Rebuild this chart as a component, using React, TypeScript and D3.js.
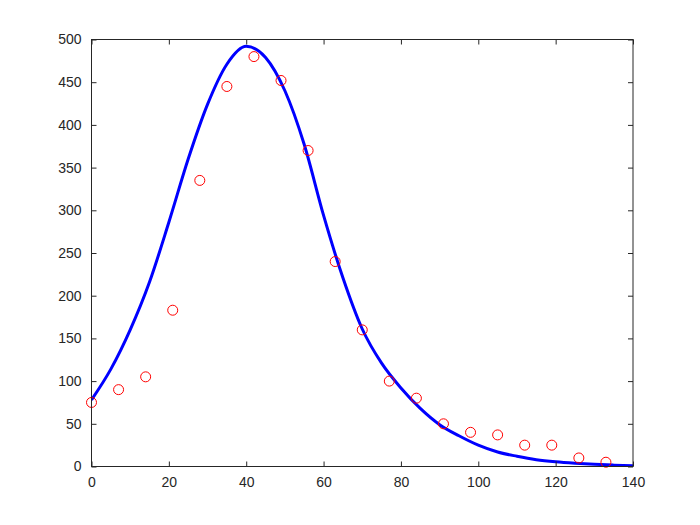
import { useEffect, useRef } from "react"
import * as d3 from "d3"

// observed data (red circles)
const diasObs = [0, 7, 14, 21, 28, 35, 42, 49, 56, 63, 70, 77, 84, 91, 98, 105, 112, 119, 126, 133]
const casosObs = [75, 90, 105, 183, 335, 445, 480, 452, 370, 240, 160, 100, 80, 50, 40, 37, 25, 25, 10, 5]

// fitted curve (blue), every 5 units
const diasAjuste = [0, 5, 10, 15, 20, 25, 30, 35, 40, 45, 50, 55, 60, 65, 70, 75, 80, 85, 90, 95, 100, 105, 110, 115, 120, 125, 130, 135, 140]
const casosAjuste = [78, 114, 160, 216, 286, 360, 424, 471, 492, 479, 440, 377, 294, 221, 161, 121, 92, 68, 49, 36, 25, 17, 12, 8, 5.5, 3.8, 2.5, 1.6, 1]

const ticksX = [0, 20, 40, 60, 80, 100, 120, 140]
const ticksY = [0, 50, 100, 150, 200, 250, 300, 350, 400, 450, 500]

export default function App() {
  const svgRef = useRef<SVGSVGElement>(null)

  useEffect(() => {
    if (!svgRef.current) return
    const svg = d3.select(svgRef.current)
    svg.selectAll("*").remove()

    const width = 700
    const height = 525
    const margin = { top: 39.5, right: 67, bottom: 58.5, left: 91.5 }
    const innerWidth = width - margin.left - margin.right
    const innerHeight = height - margin.top - margin.bottom
    const ink = "#262626"
    const fuente = "'Liberation Sans', Arial, Helvetica, sans-serif"

    svg.append("rect").attr("width", width).attr("height", height).attr("fill", "#fff")

    const g = svg.append("g").attr("transform", `translate(${margin.left},${margin.top})`)

    const x = d3.scaleLinear().domain([0, 140]).range([0, innerWidth])
    const y = d3.scaleLinear().domain([0, 500]).range([innerHeight, 0])

    // clip so the line stays inside the box
    svg.append("defs").append("clipPath").attr("id", "recorte")
      .append("rect").attr("width", innerWidth).attr("height", innerHeight)

    const datosAjuste = diasAjuste.map((d, i) => ({ x: d, y: casosAjuste[i] }))
    const linea = d3.line<{ x: number; y: number }>()
      .x((d) => x(d.x))
      .y((d) => y(d.y))
      .curve(d3.curveMonotoneX)

    g.append("path")
      .datum(datosAjuste)
      .attr("clip-path", "url(#recorte)")
      .attr("fill", "none")
      .attr("stroke", "#0000ff")
      .attr("stroke-width", 3)
      .attr("d", linea)

    g.selectAll(".punto")
      .data(diasObs.map((d, i) => ({ x: d, y: casosObs[i] })))
      .enter()
      .append("circle")
      .attr("class", "punto")
      .attr("cx", (d) => x(d.x))
      .attr("cy", (d) => y(d.y))
      .attr("r", 5)
      .attr("fill", "none")
      .attr("stroke", "#ff0000")
      .attr("stroke-width", 1)

    // ejes estilo MATLAB: ticks hacia dentro, caja completa
    const estilo = (sel: any) => {
      sel.select(".domain").remove()
      sel.selectAll("line").attr("stroke", ink).attr("stroke-width", 1)
      sel.selectAll("text").attr("fill", ink).style("font-family", fuente).style("font-size", "14px")
    }

    g.append("g").attr("transform", `translate(0,${innerHeight})`)
      .call(d3.axisBottom(x).tickValues(ticksX).tickSizeInner(-5).tickSizeOuter(0).tickPadding(11))
      .call(estilo)
    g.append("g")
      .call(d3.axisTop(x).tickValues(ticksX).tickSizeInner(-5).tickSizeOuter(0).tickFormat(() => ""))
      .call(estilo)
    g.append("g")
      .call(d3.axisLeft(y).tickValues(ticksY).tickSizeInner(-5).tickSizeOuter(0).tickPadding(10))
      .call(estilo)
    g.append("g").attr("transform", `translate(${innerWidth},0)`)
      .call(d3.axisRight(y).tickValues(ticksY).tickSizeInner(-5).tickSizeOuter(0).tickFormat(() => ""))
      .call(estilo)

    g.append("rect")
      .attr("width", innerWidth)
      .attr("height", innerHeight)
      .attr("fill", "none")
      .attr("stroke", ink)
      .attr("stroke-width", 1)
  }, [])

  return (
    <div style={{ position: "absolute", left: 0, top: 0 }}>
      <svg ref={svgRef} width={700} height={525} style={{ display: "block" }} />
    </div>
  )
}
